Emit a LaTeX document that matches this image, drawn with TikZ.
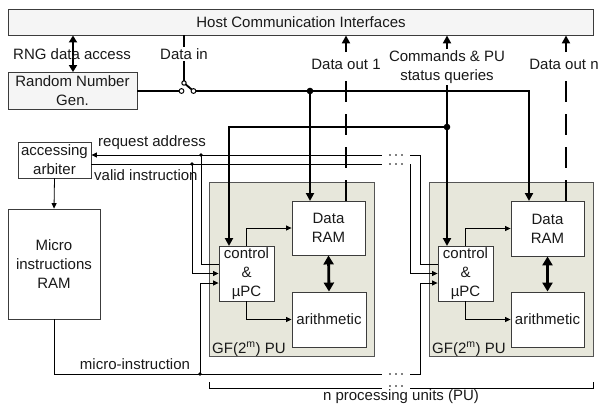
\documentclass[tikz,border=0pt]{standalone}
\usepackage{fontspec}
\setmainfont{Liberation Sans}
\usetikzlibrary{arrows.meta}
\definecolor{pufill}{RGB}{231,231,219}
\definecolor{edge}{RGB}{60,60,60}
\definecolor{puedge}{RGB}{85,85,85}
\definecolor{hostfill}{RGB}{245,245,245}
\definecolor{txt}{RGB}{25,25,25}
\begin{document}
\begin{tikzpicture}[x=1pt,y=-1pt,
  lblfont/.style={font=\fontsize{15}{19}\selectfont,text=txt},
  box/.style={draw=edge,line width=0.9pt,fill=white,inner sep=0pt,align=center,lblfont},
  pubox/.style={draw=puedge,line width=0.9pt,fill=pufill,inner sep=0pt},
  lbl/.style={lblfont,inner sep=1pt,align=center},
  wlbl/.style={lblfont,inner sep=1.5pt,align=center,fill=white},
  thk/.style={line width=2.6pt},
  thn/.style={line width=0.8pt},
  tka/.style={-{Triangle[length=8pt,width=8pt]}},
  tkb/.style={{Triangle[length=8pt,width=8pt]}-{Triangle[length=8pt,width=8pt]}},
  tkd/.style={{Triangle[length=9pt,width=10pt]}-{Triangle[length=9pt,width=10pt]}},
  tna/.style={-{Triangle[length=5.5pt,width=5pt]}},
  dashseg/.style={line width=2.8pt,dash pattern=on 21pt off 12pt}
]
\useasboundingbox (0,0) rectangle (599,405);

% ---- boxes
\node[box,fill=hostfill,minimum width=585pt,minimum height=26pt] (host) at (301,22) {Host Communication Interfaces};
\node[box,fill=hostfill,minimum width=129pt,minimum height=37pt] (rng) at (72.5,91) {Random Number\\Gen.};
\node[box,minimum width=73pt,minimum height=36pt] (arb) at (54.5,160) {accessing\\arbiter};
\node[box,minimum width=92pt,minimum height=110pt] (mram) at (54,264) {Micro\\instructions\\RAM};

\node[pubox,minimum width=165pt,minimum height=174pt] (pu1) at (291.5,269) {};
\node[pubox,minimum width=164pt,minimum height=174pt] (pu2) at (511,269) {};
\node[lbl,anchor=base west] (gf1) at (211,353) {GF(2\textsuperscript{m}) PU};
\node[lbl,anchor=base west] (gf2) at (431,353) {GF(2\textsuperscript{m}) PU};

\node[box,minimum width=55pt,minimum height=55pt] (ctl1) at (246.5,273.5) {control\\\&\\µPC};
\node[box,minimum width=73pt,minimum height=54pt] (dram1) at (328.5,228) {Data\\RAM};
\node[box,minimum width=74pt,minimum height=55pt] (ar1) at (329,319.5) {arithmetic};
\node[box,minimum width=55pt,minimum height=55pt] (ctl2) at (465.5,273.5) {control\\\&\\µPC};
\node[box,minimum width=73pt,minimum height=55pt] (dram2) at (547.5,228.5) {Data\\RAM};
\node[box,minimum width=73pt,minimum height=55pt] (ar2) at (547.5,319.5) {arithmetic};

% ---- coordinates
\coordinate (swl) at (181.5,91);
\coordinate (swr) at (193.5,91);
\coordinate (swt) at (184,83);
\coordinate (j1) at (310,91);
\coordinate (d1in) at (310,201);
\coordinate (d2in) at (529,201);
\coordinate (j2) at (447,127);
\coordinate (c1in) at (229,246);
\coordinate (c2in) at (447,246);
\coordinate (rngacc) at (73,53);
\coordinate (o1) at (346,80);
\coordinate (o1h) at (346,52);
\coordinate (o2) at (566,80);
\coordinate (o2h) at (566,52);
\coordinate (ra) at (201,155);
\coordinate (vi) at (192,164);
\coordinate (mi) at (200,374);
\coordinate (raE) at (382,155);
\coordinate (viE) at (382,164);
\coordinate (miE) at (382,374);
\coordinate (raR) at (410,155);
\coordinate (raR2) at (420,155);
\coordinate (viR) at (410,164);
\coordinate (miR) at (410,374);
\coordinate (miR2) at (420,374);
\coordinate (brL) at (209,382);
\coordinate (brLb) at (209,388);
\coordinate (brM1) at (382,388);
\coordinate (brM2) at (410,388);
\coordinate (brRb) at (593,388);
\coordinate (brR) at (593,382);

% ---- thin control lines
\draw[thn,tna] ([yshift=9pt]ctl1.west) -| (ra) -- (ra -| arb.east);
\draw[thn] (ra) -- (raE);
\draw[thn] (vi -| arb.east) -- (viE);
\draw[thn,tna] (vi) |- (ctl1.west);
\draw[thn,tna] (mi) |- ([yshift=-9.5pt]ctl1.west);
\draw[thn] (mram.south) |- (miE);
\draw[thn] (raR) -- (raR2) |- ([yshift=9pt]ctl2.west);
\draw[thn,tna] (viR) |- (ctl2.west);
\draw[thn,tna] (miR) -- (miR2) |- ([yshift=-9.5pt]ctl2.west);
\draw[thn,tna] (arb.south) -- (mram.north);
\fill (ra) circle (1.9);
\fill (vi) circle (1.9);
\fill (mi) circle (1.9);
\foreach \yy in {155,164,374,386}{
  \foreach \xx in {390,396,402}{\fill (\xx,\yy) circle (0.9);}
}
\draw[thn] (brL) -- (brLb) -- (brM1);
\draw[thn] (brM2) -- (brRb) -- (brR);

\draw[thn,tna] (ctl1.north) |- (dram1.west);
\draw[thn,tna] (ctl1.south) |- (ar1.west);
\draw[thn,tna] (ctl2.north) |- (dram2.west);
\draw[thn,tna] (ctl2.south) |- (ar2.west);

% ---- thick data lines
\draw[thk] (rng.east |- swl) -- (swl);
\draw[thk,tka] (swr) -| (d2in);
\draw[thk,tka] (j1) -- (d1in);
\fill (j1) circle (3.3);
\draw[thk,tkb] (host.south -| c2in) -- (c2in);
\draw[thk,tka] (j2) -| (c1in);
\fill (j2) circle (3.3);
\draw[line width=2.2pt] (host.south -| swt) -- (swt);
\draw[line width=1.8pt] (swt) -- (swr);
\draw[line width=1pt,fill=white] (swl) circle (2.4);
\draw[line width=1pt,fill=white] (swr) circle (2.4);
\draw[line width=1pt,fill=white] (swt) circle (2.2);
\draw[line width=2.2pt,{Triangle[length=7pt,width=8pt]}-{Triangle[length=7pt,width=8pt]}] (host.south -| rngacc) -- (rng.north -| rngacc);

\draw[dashseg] (dram1.north -| o1) -- (o1);
\draw[thk,tka] (o1h) -- (o1h |- host.south);
\draw[dashseg] (dram2.north -| o2) -- (o2);
\draw[thk,tka] (o2h) -- (o2h |- host.south);

\draw[tkd,line width=2.8pt] (dram1.south) -- (ar1.north);
\draw[tkd,line width=2.8pt] (dram2.south) -- (ar2.north);

% ---- labels
\node[lbl] (lrng) at (72,54) {RNG data access};
\node[wlbl] (ldin) at (184,54) {Data in};
\node[lbl] (ldo1) at (346,64) {Data out 1};
\node[wlbl] (lcmd) at (447,67) {Commands \& PU\\status queries};
\node[lbl] (ldon) at (564,64) {Data out n};
\node[lbl] (lreq) at (152,143) {request address};
\node[lbl,anchor=west] (lval) at (93,175) {valid instruction};
\node[lbl] (lmic) at (135,364) {micro-instruction};
\node[lbl] (lpu) at (401,397) {n processing units (PU)};
\end{tikzpicture}
\end{document}
